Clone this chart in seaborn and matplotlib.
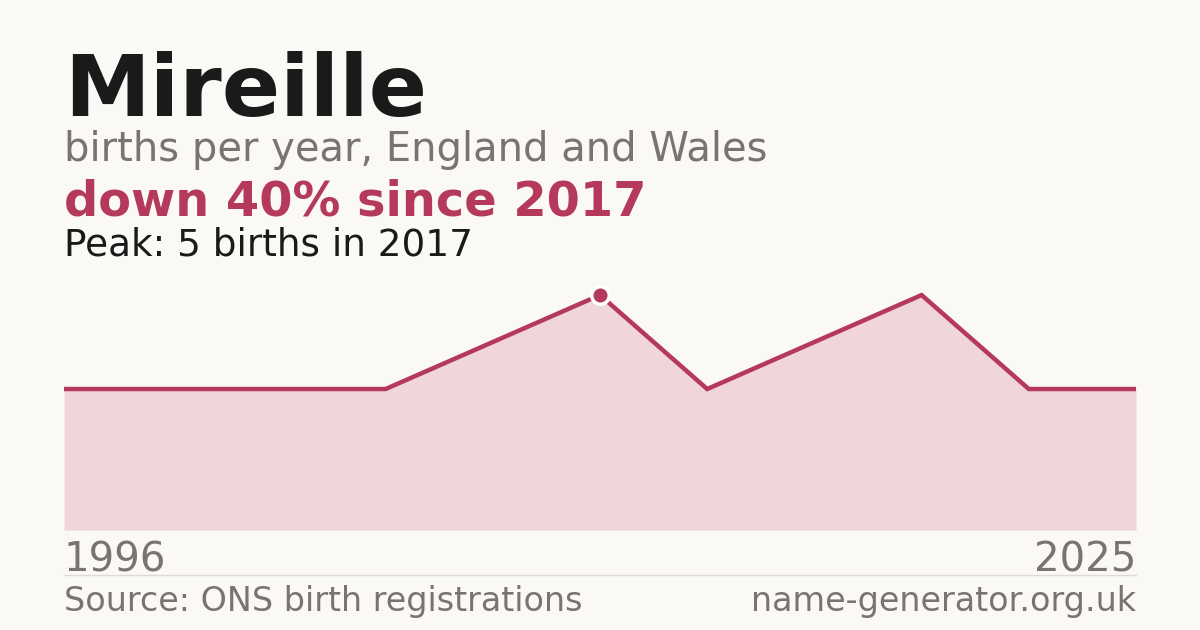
import matplotlib
matplotlib.use("Agg")
import matplotlib.pyplot as plt
import seaborn as sns
import pandas as pd

# data (years with recorded births; spacing in chart is by entry, not by year)
years = [1996, 2009, 2012, 2014, 2016, 2017, 2018, 2020, 2022, 2024, 2025]
births = [3, 3, 3, 3, 4, 5, 3, 4, 5, 3, 3]
peak_year = 2017
peak_value = 5

name = "Mireille"
subtitle = "births per year, England and Wales"
headline = "down 40% since 2017"
peak_text = "Peak: 5 births in 2017"
source = "Source: ONS birth registrations"
site = "name-generator.org.uk"

BG = "#faf9f5"
RED = "#b5395a"
FILL = "#f0d5db"
DARK = "#1a1a1a"
GREY = "#79746d"

sns.set_theme(style="white")
plt.rcParams["font.family"] = ["DejaVu Sans"]

df = pd.DataFrame({"idx": range(len(years)), "year": years, "births": births})

fig = plt.figure(figsize=(12, 6.3), dpi=100, facecolor=BG)
ax = fig.add_axes([64 / 1200, 100 / 630, 1072 / 1200, 250 / 630])
ax.set_facecolor(BG)

ax.fill_between(df["idx"], df["births"], 0, color=FILL, lw=0)
sns.lineplot(data=df, x="idx", y="births", ax=ax, color=RED, lw=3.2,
             solid_joinstyle="miter", solid_capstyle="butt")

pk = df[df["year"] == peak_year].iloc[0]
ax.scatter([pk["idx"]], [pk["births"]], s=160, color=RED,
           edgecolor="white", linewidth=2.5, zorder=5)

ax.set_xlim(0, len(years) - 1)
ax.set_ylim(0, 5.32)
ax.axis("off")

# header text
fig.text(64 / 1200, 1 - 116 / 630, name, fontsize=62, fontweight="bold",
         color=DARK, ha="left", va="baseline")
fig.text(64 / 1200, 1 - 161 / 630, subtitle, fontsize=28.8, color=GREY,
         ha="left", va="baseline")
fig.text(64 / 1200, 1 - 215 / 630, headline, fontsize=34.5, fontweight="bold",
         color=RED, ha="left", va="baseline")
fig.text(64 / 1200, 1 - 256 / 630, peak_text, fontsize=26.9, color=DARK,
         ha="left", va="baseline")

# x labels
fig.text(64 / 1200, 1 - 571 / 630, str(years[0]), fontsize=29, color=GREY,
         ha="left", va="baseline")
fig.text(1136 / 1200, 1 - 571 / 630, str(years[-1]), fontsize=29, color=GREY,
         ha="right", va="baseline")

# separator + footer
fig.add_artist(plt.Line2D([64 / 1200, 1136 / 1200], [1 - 574.5 / 630] * 2,
                          color="#dedbd4", lw=1))
fig.text(64 / 1200, 1 - 611 / 630, source, fontsize=24, color=GREY,
         ha="left", va="baseline")
fig.text(1136 / 1200, 1 - 611 / 630, site, fontsize=24, color=GREY,
         ha="right", va="baseline")

fig.savefig("out.png", dpi=100, facecolor=BG)
